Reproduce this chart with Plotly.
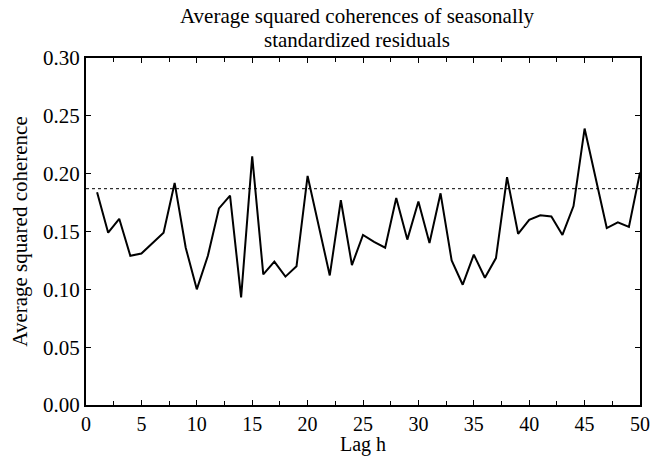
import plotly.graph_objects as go

lags = list(range(1, 51))
coherence = [0.184, 0.149, 0.161, 0.129, 0.131, 0.140, 0.149, 0.192, 0.136, 0.100,
             0.129, 0.170, 0.181, 0.093, 0.215, 0.113, 0.124, 0.111, 0.120, 0.198,
             0.155, 0.112, 0.177, 0.121, 0.147, 0.141, 0.136, 0.179, 0.143, 0.176,
             0.140, 0.183, 0.125, 0.104, 0.130, 0.110, 0.127, 0.197, 0.148, 0.160,
             0.164, 0.163, 0.147, 0.172, 0.239, 0.196, 0.153, 0.158, 0.154, 0.201]
threshold = 0.187
xticks = [0, 5, 10, 15, 20, 25, 30, 35, 40, 45, 50]
yticks = [0.00, 0.05, 0.10, 0.15, 0.20, 0.25, 0.30]
title_lines = ["Average squared coherences of seasonally", "standardized residuals"]
x_title = "Lag h"
y_title = "Average squared coherence"

font_family = "Liberation Serif, DejaVu Serif, serif"

fig = go.Figure()
fig.add_trace(go.Scatter(x=[0, 50], y=[threshold, threshold], mode="lines",
                         line=dict(color="black", width=1, dash="dot"),
                         showlegend=False, hoverinfo="skip"))
fig.add_trace(go.Scatter(x=lags, y=coherence, mode="lines",
                         line=dict(color="black", width=2),
                         showlegend=False))

fig.update_layout(
    width=651, height=457,
    margin=dict(l=86, r=11, t=58, b=52),
    paper_bgcolor="white", plot_bgcolor="white",
    font=dict(family=font_family, size=21, color="black"),
)
# plot area: 58px (top) to 405px (bottom) => 347px tall
for text, ypos in zip(title_lines, [1 + 42 / 347, 1 + 18 / 347]):
    fig.add_annotation(text=text, xref="paper", yref="paper", x=0.49, y=ypos,
                       xanchor="center", yanchor="middle", showarrow=False,
                       font=dict(family=font_family, size=21, color="black"))
fig.add_annotation(text=x_title, xref="paper", yref="paper", x=0.5, y=-52 / 347,
                   xanchor="center", yanchor="bottom", showarrow=False, borderpad=0,
                   font=dict(family=font_family, size=20, color="black"))

fig.update_xaxes(
    range=[0, 50], tickvals=xticks, ticktext=[str(v) for v in xticks],
    ticks="inside", ticklen=5, tickwidth=1, tickcolor="black",
    minor=dict(dtick=2.5, tick0=0, ticks="inside", ticklen=4, tickwidth=1, tickcolor="black"),
    showline=True, linecolor="black", linewidth=2, mirror="ticks",
    showgrid=False, zeroline=False, automargin=False,
    tickfont=dict(size=20),
)
fig.update_yaxes(
    range=[0, 0.30], tickvals=yticks, ticktext=["%.2f" % v for v in yticks],
    ticks="inside", ticklen=5, tickwidth=1, tickcolor="black",
    showline=True, linecolor="black", linewidth=2, mirror="ticks",
    showgrid=False, zeroline=False, automargin=False,
    tickfont=dict(size=21),
    title=dict(text=y_title, font=dict(size=21), standoff=10),
)

fig.write_html("out.html")
